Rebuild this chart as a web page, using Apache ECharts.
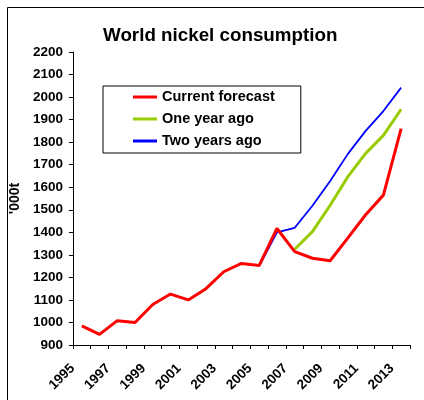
<!DOCTYPE html>
<html>
<head>
<meta charset="utf-8">
<script src="https://cdn.jsdelivr.net/npm/echarts@6/dist/echarts.min.js"></script>
<style>
  html, body { margin: 0; padding: 0; background: #fff; overflow: hidden; }
  #chart { width: 424px; height: 400px; }
</style>
</head>
<body>
<div id="chart"></div>
<script>
// Years on the category axis
const years = ['1995','1996','1997','1998','1999','2000','2001','2002','2003','2004',
               '2005','2006','2007','2008','2009','2010','2011','2012','2013'];

// World nickel consumption, '000 tonnes
const currentForecast = [985, 947, 1008, 1000, 1080, 1126, 1100, 1150, 1225, 1262,
                         1253, 1417, 1314, 1285, 1274, 1375, 1478, 1565, 1860];
const oneYearAgo      = [null, null, null, null, null, null, null, null, null, null,
                         null, null, 1325, 1403, 1520, 1647, 1750, 1830, 1946];
const twoYearsAgo     = [null, null, null, null, null, null, null, null, null, null,
                         1250, 1400, 1420, 1518, 1628, 1748, 1850, 1938, 2042];

const seriesNames = ['Current forecast', 'One year ago', 'Two years ago'];

const font = 'Liberation Sans, Arial, sans-serif';
const chart = echarts.init(document.getElementById('chart'), null, { renderer: 'canvas' });

chart.setOption({
  backgroundColor: '#ffffff',
  animation: false,
  title: {
    text: 'World nickel consumption',
    left: 98,
    top: 21,
    textStyle: { fontFamily: font, fontWeight: 'bold', fontSize: 18.8, color: '#000' }
  },
  // frame edges (top and left) of the chart area
  graphic: [
    {
      type: 'line',
      shape: { x1: 7.5, y1: 7.5, x2: 430, y2: 7.5 },
      style: { stroke: '#000', lineWidth: 1 },
      silent: true
    },
    {
      type: 'line',
      shape: { x1: 7.5, y1: 7.5, x2: 7.5, y2: 410 },
      style: { stroke: '#000', lineWidth: 1 },
      silent: true
    }
  ],
  legend: {
    orient: 'vertical',
    left: 103,
    top: 86,
    padding: [3, 26, 4, 30],
    itemGap: 6,
    itemWidth: 24,
    itemHeight: 3,
    icon: 'rect',
    borderColor: '#000',
    borderWidth: 1,
    backgroundColor: '#fff',
    textStyle: { fontFamily: font, fontWeight: 'bold', fontSize: 14.5, color: '#000', lineHeight: 16 },
    data: seriesNames
  },
  grid: { left: 72, right: 14, top: 52, bottom: 55, containLabel: false },
  xAxis: {
    type: 'category',
    data: years,
    boundaryGap: true,
    axisLine: { lineStyle: { color: '#000', width: 1 } },
    axisTick: { show: true, length: 4, interval: 0, lineStyle: { color: '#000' } },
    axisLabel: {
      interval: 1,
      rotate: 45,
      margin: 12,
      padding: [0, 13, 0, 0],
      color: '#000',
      fontFamily: font,
      fontWeight: 'bold',
      fontSize: 13.5
    },
    splitLine: { show: false }
  },
  yAxis: {
    type: 'value',
    min: 900,
    max: 2200,
    interval: 100,
    name: "'000t",
    nameLocation: 'middle',
    nameGap: 41,
    nameTextStyle: { fontFamily: font, fontWeight: 'bold', fontSize: 14, color: '#000' },
    axisLine: { show: true, lineStyle: { color: '#000', width: 1 } },
    axisTick: { show: true, length: 4, lineStyle: { color: '#000' } },
    axisLabel: {
      margin: 10, color: '#000', fontFamily: font, fontWeight: 'bold', fontSize: 13.5,
      formatter: function (v) { return String(v); }
    },
    splitLine: { show: false }
  },
  series: [
    {
      name: seriesNames[0], type: 'line', data: currentForecast,
      symbol: 'none', color: '#ff0000',
      lineStyle: { width: 3, color: '#ff0000' }, z: 3
    },
    {
      name: seriesNames[1], type: 'line', data: oneYearAgo,
      symbol: 'none', color: '#99cc00',
      lineStyle: { width: 3, color: '#99cc00' }, z: 2
    },
    {
      name: seriesNames[2], type: 'line', data: twoYearsAgo,
      symbol: 'none', color: '#0000ff',
      lineStyle: { width: 1.8, color: '#0000ff' }, z: 1
    }
  ]
});
</script>
</body>
</html>
